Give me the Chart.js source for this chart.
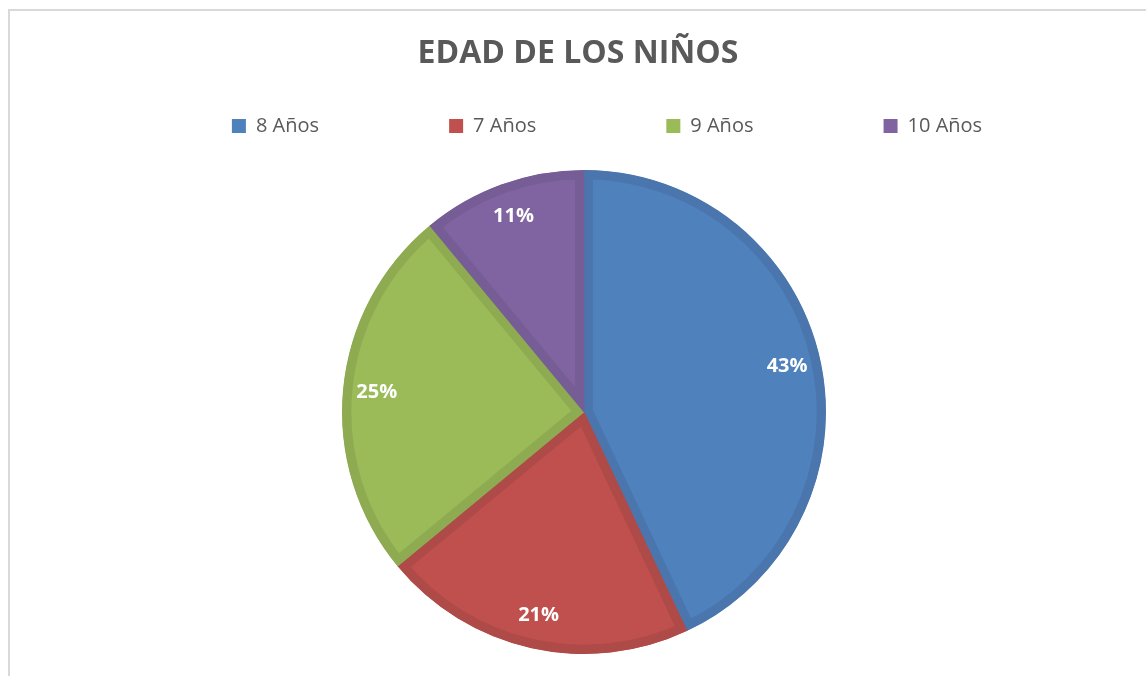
<!DOCTYPE html>
<html>
<head>
<meta charset="utf-8">
<script src="https://cdn.jsdelivr.net/npm/chart.js@4.4.1/dist/chart.umd.min.js"></script>
<style>
  html, body { margin: 0; padding: 0; background: #ffffff; overflow: hidden; }
  #frame { position: absolute; left: 8px; top: 9px; width: 1160px; height: 690px; border: 2px solid #d9d9d9; }
  #wrap { position: absolute; left: 0; top: 0; width: 1168px; height: 678px; }
</style>
</head>
<body>
<div id="frame"></div>
<div id="wrap"><canvas id="pieChart"></canvas></div>
<script>
const chartTitle = 'EDAD DE LOS NIÑOS'
const ageLabels = ['8 Años', '7 Años', '9 Años', '10 Años']
const agePercent = [43, 21, 25, 11]
const sliceColors = ['#4F81BD', '#C0504D', '#9BBB59', '#8064A2']
const sliceBorders = ['#4A76AD', '#AE4A47', '#8EAB52', '#765D95']

const legendFont = '20px "Open Sans"'
const measureCtx = document.createElement('canvas').getContext('2d')

// pad the legend text so every entry takes the same slot width (Excel style)
function padLabel(text, target) {
    measureCtx.font = legendFont
    let out = text
    let n = 0
    while (measureCtx.measureText(out).width < target && n < 300) {
        out += '\u200A'
        n++
    }
    return out
}

const sliceLabels = {
    id: 'sliceLabels',
    afterDatasetsDraw(chart) {
        const ctx = chart.ctx
        const meta = chart.getDatasetMeta(0)
        const total = agePercent.reduce((a, b) => a + b, 0)
        ctx.save()
        ctx.font = 'bold 20px "Open Sans"'
        ctx.fillStyle = '#ffffff'
        ctx.textAlign = 'center'
        ctx.textBaseline = 'middle'
        meta.data.forEach((arc, i) => {
            const p = arc.getProps(['x', 'y', 'startAngle', 'endAngle', 'outerRadius'], true)
            const mid = (p.startAngle + p.endAngle) / 2
            const r = p.outerRadius * 0.86
            ctx.fillText(Math.round(agePercent[i] / total * 100) + '%', p.x + Math.cos(mid) * r, p.y + Math.sin(mid) * r)
        })
        ctx.restore()
    }
}

// legend sits a bit right of the pie centre, title a little left
const blockShift = {
    id: 'blockShift',
    afterLayout(chart) {
        chart.legend.left += 46
        chart.titleBlock.left -= 12
    }
}

const pieChart = new Chart(document.getElementById('pieChart'), {
    type: 'pie',
    data: {
        labels: ageLabels,
        datasets: [{
            data: agePercent,
            backgroundColor: sliceColors,
            borderColor: sliceBorders,
            borderWidth: 9,
            borderAlign: 'inner',
            borderJoinStyle: 'miter'
        }]
    },
    options: {
        responsive: true,
        maintainAspectRatio: false,
        animation: false,
        events: [],
        radius: 242,
        layout: { padding: 0 },
        plugins: {
            title: {
                display: true,
                text: chartTitle,
                color: '#595959',
                font: { family: 'Open Sans', size: 32, weight: 'bold' },
                padding: { top: 35, bottom: 32.6 }
            },
            legend: {
                display: true,
                position: 'top',
                labels: {
                    color: '#595959',
                    font: { family: 'Open Sans', size: 20 },
                    boxWidth: 14,
                    boxHeight: 14,
                    padding: 10,
                    generateLabels(chart) {
                        const items = Chart.overrides.pie.plugins.legend.labels.generateLabels(chart)
                        items.forEach((item, i) => {
                            item.lineWidth = 0
                            item.strokeStyle = item.fillStyle
                            if (i < items.length - 1) item.text = padLabel(item.text, 182)
                        })
                        return items
                    }
                }
            },
            tooltip: { enabled: false }
        }
    },
    plugins: [sliceLabels, blockShift]
})
</script>
</body>
</html>
